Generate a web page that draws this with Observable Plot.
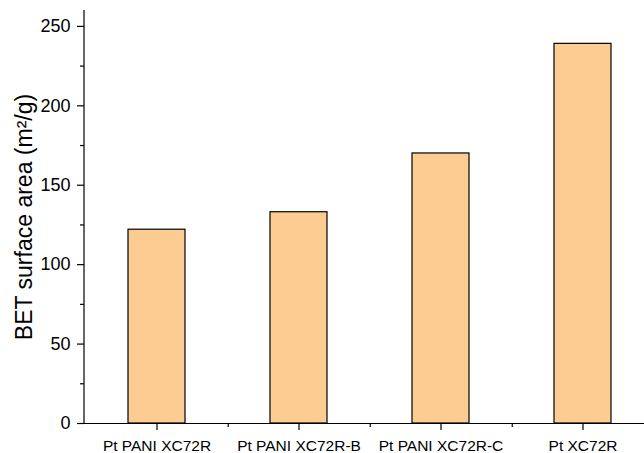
<!DOCTYPE html>
<html>
<head>
<meta charset="utf-8">
<script src="https://cdn.jsdelivr.net/npm/d3@7"></script>
<script src="https://cdn.jsdelivr.net/npm/@observablehq/plot@0.6"></script>
<style>
  html, body { margin: 0; padding: 0; background: #fff; overflow: hidden; }
  #chart svg { display: block; overflow: hidden; }
</style>
</head>
<body>
<div id="chart"></div>
<script>
const categories = ["Pt PANI XC72R", "Pt PANI XC72R-B", "Pt PANI XC72R-C", "Pt XC72R"];
const values = [122, 133, 170, 239];
const majorTicks = [0, 50, 100, 150, 200, 250];
const minorTicks = [25, 75, 125, 175, 225];
const yTitle = "BET surface area (m²/g)";

const data = categories.map((c, i) => ({category: c, value: values[i]}));

const W = 644, H = 453;
const mL = 84, mT = 10, mB = 30;
const xRange = [84, 654];
const step = (xRange[1] - xRange[0]) / categories.length;
const font = "'Liberation Sans', Arial, Helvetica, sans-serif";

const chart = Plot.plot({
  width: W,
  height: H,
  marginLeft: mL,
  marginRight: 0,
  marginTop: mT,
  marginBottom: mB,
  style: {fontFamily: font, background: "#fff", color: "#000"},
  x: {domain: categories, range: xRange, paddingInner: 0.6, paddingOuter: 0.3, align: 0.5},
  y: {domain: [0, 260]},
  marks: [
    Plot.barY(data, {x: "category", y: "value", fill: "#fdcc92", stroke: "#000", strokeWidth: 1.2}),
    // x axis line
    Plot.ruleY([0], {stroke: "#000", strokeWidth: 1.2}),
    // y axis line
    (index, scales, values, dims) => {
      const l = d3.create("svg:line")
        .attr("x1", dims.marginLeft).attr("x2", dims.marginLeft)
        .attr("y1", dims.marginTop).attr("y2", dims.height - dims.marginBottom)
        .attr("stroke", "#000").attr("stroke-width", 1.2);
      return l.node();
    },
    Plot.axisY(majorTicks, {tickSize: 7, tickPadding: 7, fontSize: 18, label: null, stroke: "#000", strokeWidth: 1.2}),
    Plot.axisY(minorTicks, {tickSize: 4, text: null, label: null, stroke: "#000", strokeWidth: 1.2}),
    Plot.axisX(categories, {tickSize: 7, tickPadding: 9, fontSize: 15.5, label: null, stroke: "#000", strokeWidth: 1.2}),
    Plot.axisX(categories.slice(0, 3), {tickSize: 4, text: null, label: null, dx: step / 2, stroke: "#000", strokeWidth: 1.2}),
    Plot.text([yTitle], {frameAnchor: "left", textAnchor: "middle", rotate: -90, dx: -60, fontSize: 23, fill: "#000", fontFamily: font})
  ]
});

document.getElementById("chart").appendChild(chart);
</script>
</body>
</html>
